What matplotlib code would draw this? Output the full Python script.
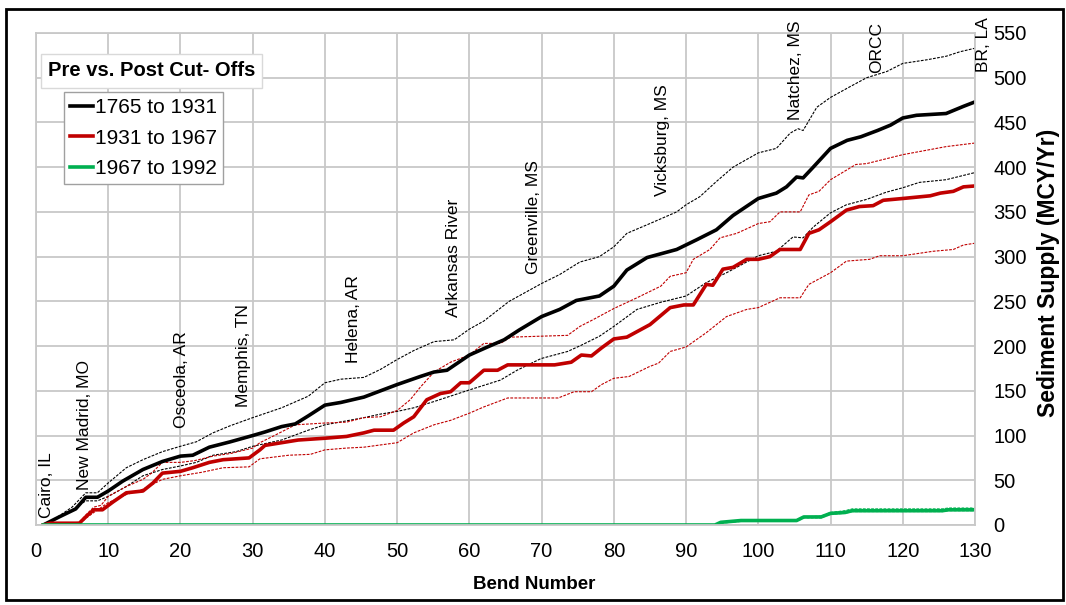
import matplotlib
matplotlib.use("Agg")
import matplotlib.pyplot as plt
from matplotlib.patches import Rectangle

plt.rcParams['font.family'] = ['Liberation Sans', 'DejaVu Sans']

# 1765 to 1931 (main line and its dashed bounds)
black_x = [1, 3.2, 5.5, 6.9, 8.5, 10, 12, 14.8, 17.5, 20, 21.7, 24, 26.9, 30, 31.7, 34, 35.9,
           37.7, 40, 42.2, 45.4, 47.7, 50, 53.2, 55.1, 56.9, 60, 62.5, 64.8, 66.9, 70, 72.5,
           74.8, 78, 80, 81.8, 84.6, 88.7, 91.5, 94.2, 96.5, 100, 102.5, 103.9, 105.3, 106.2,
           107.6, 110, 112.3, 114.2, 116.5, 118.3, 120, 121.9, 126, 128.4, 130]
black_y = [0, 9, 18, 31, 31, 38, 49, 62, 71, 77, 78, 87, 93, 100, 104, 110, 113,
           122, 134, 137, 143, 150, 157, 166, 171, 173, 190, 199, 207, 218, 233, 241,
           251, 256, 267, 285, 299, 308, 319, 330, 346, 365, 371, 378, 389, 388,
           400, 421, 430, 434, 441, 447, 455, 458, 460, 468, 473]

black_hi_x = [1, 3, 5, 6.9, 8.5, 10, 12.5, 14.8, 17.5, 20, 22.2, 24.5, 26.9, 30, 34, 37.7, 40,
              42.2, 45.4, 47.7, 50, 52.3, 55.1, 57.9, 60, 62, 65.5, 70, 72.5, 75.3, 78, 80,
              81.8, 85, 88.7, 90, 91.9, 94.2, 96.5, 100, 102.5, 104.4, 105.5, 106.2, 108.1,
              110, 112.7, 115, 117.8, 120, 123.3, 126, 127.9, 130]
black_hi_y = [0, 9, 20, 36, 36, 47, 64, 73, 82, 88, 93, 103, 111, 120, 131, 144, 159,
              163, 165, 174, 185, 195, 205, 207, 219, 228, 250, 270, 280, 294, 300, 311,
              326, 337, 350, 358, 367, 384, 400, 416, 421, 438, 443, 441, 467,
              478, 490, 500, 507, 516, 520, 524, 529, 533]

black_lo_x = [1, 3, 5, 6.9, 8.5, 10, 12.5, 14.8, 17.5, 20, 22.2, 24.5, 27.7, 30, 34, 37.7, 40,
              45.4, 47.7, 50, 52.3, 55.1, 60, 64.3, 66.6, 69.9, 73.6, 75.5, 78, 80, 83.2, 86.5,
              90, 92.8, 95.6, 100, 102.5, 104.8, 106.2, 107.6, 110, 112.2, 115, 117.7, 120,
              122.3, 126, 128, 130]
black_lo_y = [0, 8, 17, 27, 27, 32, 43, 55, 62, 66, 70, 78, 82, 88, 95, 106, 112,
              120, 124, 127, 131, 138, 151, 162, 173, 186, 194, 201, 211, 222, 241, 249,
              256, 271, 282, 301, 306, 322, 321, 333, 349, 358, 364, 372, 377,
              383, 386, 390, 394]

# 1931 to 1967
red_x = [1, 2, 6, 7, 8, 9.2, 10.7, 12.5, 14.8, 16.2, 17.5, 20, 21.7, 24, 25.9, 29.5, 31, 31.7,
         36.3, 40, 43, 45.4, 46.8, 49.5, 50.9, 52.3, 54.1, 56, 57.4, 58.8, 60, 62, 63.9, 65.3,
         71.8, 74.1, 75.5, 76.9, 78.3, 80, 81.8, 85, 87.8, 89.7, 91, 92.8, 93.7, 95.1, 96.5,
         98.4, 100, 101.6, 103, 105.8, 107, 108.4, 110, 112.2, 114, 115.9, 117.3, 120, 123.8,
         125.2, 127, 128.4, 130]
red_y = [0, 2, 2, 10, 17, 17, 26, 36, 38, 47, 58, 60, 64, 70, 73, 75, 84, 89,
         95, 97, 99, 103, 106, 106, 114, 121, 140, 147, 149, 159, 159, 173, 173, 179,
         179, 182, 190, 189, 198, 208, 210, 224, 243, 246, 246, 269, 268, 286, 288,
         297, 297, 300, 308, 308, 326, 330, 339, 352, 356, 357, 363, 365, 368,
         371, 373, 378, 379]

red_hi_x = [1, 6, 7, 8, 9, 10, 12.5, 14.8, 16, 17.5, 20, 22, 24.5, 27, 30, 31, 33, 35.9, 40,
            43, 45.4, 47.7, 50, 51.8, 53.2, 55.1, 57.4, 60, 62, 64.3, 65.7, 73.6, 75.3, 77,
            80, 83.2, 86.5, 87.8, 90, 91, 93.3, 94.7, 97, 100, 101.6, 103, 105.8, 107, 108.4,
            110, 113.5, 115, 120, 126, 130]
red_hi_y = [0, 3, 12, 20, 22, 32, 43, 51, 58, 70, 70, 72, 77, 80, 86, 92, 100, 112, 114,
            115, 120, 121, 128, 140, 154, 171, 182, 190, 203, 203, 210, 212, 222, 229,
            242, 254, 267, 278, 282, 297, 308, 321, 326, 337, 339, 350, 350, 369, 373,
            386, 403, 404, 414, 423, 427]

red_lo_x = [1, 6, 7, 8, 10, 12.5, 14.8, 17.5, 20, 23, 25.9, 29.5, 31, 35, 38, 40, 43, 45.4,
            50, 52.3, 55.1, 57.4, 60, 62, 65.3, 72.3, 74.5, 76.9, 78.3, 80, 82.1, 84.9, 86.2,
            87.8, 90, 92.8, 95.6, 98.4, 100, 103, 105.8, 107, 110, 112.2, 115.4, 116.8, 120,
            124.2, 127, 128.4, 130]
red_lo_y = [0, 1, 8, 14, 25, 34, 40, 51, 55, 59, 64, 65, 74, 78, 79, 84, 86, 87,
            92, 103, 112, 117, 125, 132, 142, 142, 149, 149, 157, 164, 166, 177, 181,
            194, 199, 215, 233, 241, 243, 254, 254, 269, 282, 295, 297, 301, 301,
            306, 308, 313, 315]

# 1967 to 1992
green_x = [1, 94, 94.8, 97.6, 105.3, 106.3, 108.7, 110, 112, 113, 125.5, 126.3, 130]
green_y = [0, 0, 3, 5, 5, 9, 9, 13, 14, 16, 16, 17, 17]
green_hi_y = [0, 0, 3, 5, 5, 9, 10, 14, 16, 18, 18, 19, 19]
green_lo_y = [0, 0, 2, 4, 4, 8, 8, 12, 13, 15, 15, 16, 16]

# place names along the river (bend, value at the text's lower end)
places = ["Cairo, IL", "New Madrid, MO", "Osceola, AR", "Memphis, TN", "Helena, AR",
          "Arkansas River", "Greenville, MS", "Vicksburg, MS", "Natchez, MS", "ORCC", "BR, LA"]
place_x = [1.4, 6.7, 20.1, 28.7, 43.9, 57.8, 68.9, 86.7, 105.1, 116.4, 131.2]
place_y = [8, 39, 108, 132, 181, 233, 281, 368, 453, 505, 506]

RED = '#C00000'
GREEN = '#00B050'

fig = plt.figure(figsize=(10.66, 6.05), dpi=100)
ax = fig.add_axes([36 / 1066, 80 / 605, 939 / 1066, 492 / 605])

dash = dict(lw=0.8, linestyle=(0, (2.5, 1.2)))
ax.plot(black_hi_x, black_hi_y, color='black', **dash)
ax.plot(black_lo_x, black_lo_y, color='black', **dash)
ax.plot(red_hi_x, red_hi_y, color=RED, **dash)
ax.plot(red_lo_x, red_lo_y, color=RED, **dash)
ax.plot(green_x, green_hi_y, color=GREEN, **dash)
ax.plot(green_x, green_lo_y, color=GREEN, **dash)

l1, = ax.plot(black_x, black_y, color='black', lw=2.6, solid_joinstyle='round')
l2, = ax.plot(red_x, red_y, color=RED, lw=2.6, solid_joinstyle='round')
l3, = ax.plot(green_x, green_y, color=GREEN, lw=2.6, solid_joinstyle='round')

ax.set_xlim(0, 130)
ax.set_ylim(0, 550)
ax.set_xticks(range(0, 131, 10))
ax.set_yticks(range(0, 551, 50))
ax.yaxis.tick_right()
ax.tick_params(length=0, labelsize=14.5)
ax.tick_params(axis='y', pad=13)
ax.tick_params(axis='x', pad=12)
ax.grid(True, color='#C8C8C8', lw=1.3)
for s in ax.spines.values():
    s.set_color('#C8C8C8')
    s.set_linewidth(1.3)

ax.set_xlabel("Bend Number", fontsize=13.5, fontweight='bold')
ax.xaxis.set_label_coords((534 - 36) / 939, -0.103)
ax.yaxis.set_label_position('right')
ax.set_ylabel("Sediment Supply (MCY/Yr)", fontsize=16.5, fontweight='bold')
ax.yaxis.set_label_coords((1049 - 36) / 939, 0.512)
ax.yaxis.label.set_va('center')

for name, px, py in zip(places, place_x, place_y):
    ax.text(px, py, name, rotation=90, ha='center', va='bottom', fontsize=12.5)

leg = ax.legend([l1, l2, l3], ["1765 to 1931", "1931 to 1967", "1967 to 1992"],
                loc='upper left', bbox_to_anchor=(64 / 1066, 513 / 605),
                bbox_transform=fig.transFigure, fontsize=15, handlelength=1.1,
                handletextpad=0.1, labelspacing=0.55, borderpad=0.3,
                borderaxespad=0, fancybox=False, framealpha=1, edgecolor='#A0A0A0')
leg.get_frame().set_linewidth(1.0)

fig.text(48 / 1066, (605 - 71) / 605, "Pre vs. Post Cut- Offs", fontsize=14.5,
         fontweight='bold', va='center', ha='left',
         bbox=dict(facecolor='white', edgecolor='#D9D9D9', boxstyle='square,pad=0.35'))

fig.patches.append(Rectangle((6 / 1066, 5 / 605), 1057 / 1066, 591 / 605,
                             transform=fig.transFigure, fill=False, edgecolor='black',
                             lw=2))

fig.savefig("out.png", dpi=100)
